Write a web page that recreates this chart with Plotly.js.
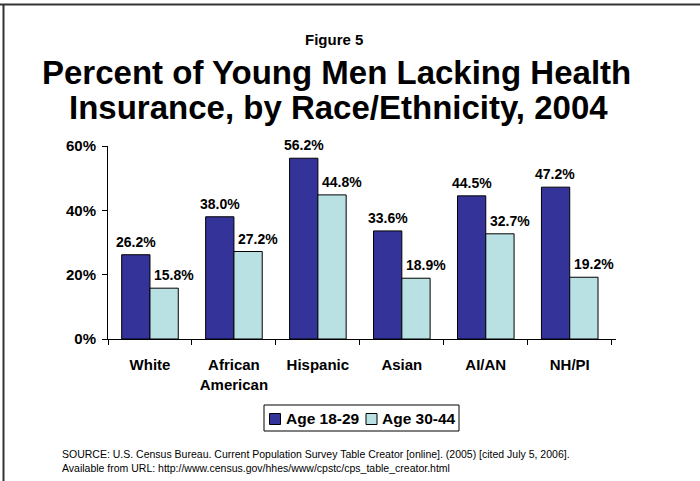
<!DOCTYPE html>
<html>
<head>
<meta charset="utf-8">
<script src="https://cdn.plot.ly/plotly-3.0.1.min.js"></script>
<style>
  html, body { margin: 0; padding: 0; background: #fff; }
  #chart { width: 700px; height: 481px; }
</style>
</head>
<body>
<div id="chart"></div>
<script>
// Uninsured young men by race/ethnicity, 2004 (percent)
const categories = ['White', 'African<br>American', 'Hispanic', 'Asian', 'AI/AN', 'NH/PI'];
const age18to29 = [26.2, 38.0, 56.2, 33.6, 44.5, 47.2];
const age30to44 = [15.8, 27.2, 44.8, 18.9, 32.7, 19.2];
const seriesNames = ['Age 18-29', 'Age 30-44'];
const yTicks = [0, 20, 40, 60];

const COLORS = ['#333399', '#B9E0E2'];
const FONT = 'Arial, "Liberation Sans", sans-serif';
const W = 700, H = 481;
const L = 108, R = 84, T = 146, B = 142;
const plotW = W - L - R, plotH = H - T - B;
// page pixels -> paper coordinates
const px = x => (x - L) / plotW;
const py = y => (H - B - y) / plotH;

const BARGAP = 0.326;
const catW = plotW / categories.length;
const barW = catW * (1 - BARGAP) / 2;

const seriesValues = [age18to29, age30to44];

const data = seriesValues.map((vals, s) => ({
  type: 'bar',
  name: seriesNames[s],
  x: categories,
  y: vals,
  showlegend: false,
  marker: { color: COLORS[s], line: { color: '#000', width: 1 } },
  hoverinfo: 'skip'
}));

// value labels above each bar
const valueLabels = [];
seriesValues.forEach((vals, s) => {
  vals.forEach((v, i) => {
    valueLabels.push({
      xref: 'x', yref: 'y',
      x: categories[i], y: v,
      xshift: s === 0 ? -barW / 2 : barW / 2 + 10,
      yshift: 3,
      xanchor: 'center', yanchor: 'bottom',
      text: v.toFixed(1) + '%',
      showarrow: false,
      font: { family: FONT, size: 14, color: '#000', weight: 'bold' }
    });
  });
});

// legend: bordered box with two swatches
const legendBox = { x0: 264, x1: 459, y0: 405, y1: 431 };
const swatchX = [269.5, 366];
const legendTextX = [284, 380];
const legendMidY = 418.5;

const legendShapes = [
  { type: 'rect', xref: 'paper', yref: 'paper',
    x0: px(legendBox.x0), x1: px(legendBox.x1), y0: py(legendBox.y0), y1: py(legendBox.y1),
    line: { color: '#000', width: 1 }, fillcolor: 'rgba(0,0,0,0)' }
];
const legendTexts = [];
seriesNames.forEach((name, s) => {
  legendShapes.push({
    type: 'rect', xref: 'paper', yref: 'paper',
    x0: px(swatchX[s]), x1: px(swatchX[s] + 11),
    y0: py(legendMidY - 5), y1: py(legendMidY + 6),
    line: { color: '#000', width: 1 }, fillcolor: COLORS[s]
  });
  legendTexts.push({
    xref: 'paper', yref: 'paper',
    x: px(legendTextX[s]), y: py(legendMidY),
    xanchor: 'left', yanchor: 'middle',
    text: name, showarrow: false,
    font: { family: FONT, size: 15.5, color: '#000', weight: 'bold' }
  });
});

const layout = {
  width: W, height: H,
  margin: { l: L, r: R, t: T, b: B, pad: 0 },
  paper_bgcolor: '#fff', plot_bgcolor: '#fff',
  font: { family: FONT, color: '#000' },
  barmode: 'group',
  bargap: BARGAP,
  bargroupgap: 0,
  showlegend: false,
  xaxis: {
    type: 'category',
    showline: true, linecolor: '#000', linewidth: 1,
    ticks: 'outside', ticklen: 5, tickcolor: '#000',
    tickson: 'boundaries',
    tickangle: 0,
    ticklabelstandoff: 12,
    showgrid: false, zeroline: false,
    tickfont: { family: FONT, size: 15, color: '#000', weight: 'bold' },
    fixedrange: true
  },
  yaxis: {
    range: [0, 60],
    tickvals: yTicks,
    ticktext: yTicks.map(v => v + '%'),
    showline: true, linecolor: '#000', linewidth: 1,
    ticks: 'outside', ticklen: 5, tickcolor: '#000',
    ticklabelstandoff: 3,
    showgrid: false, zeroline: false,
    tickfont: { family: FONT, size: 15, color: '#000', weight: 'bold' },
    fixedrange: true
  },
  annotations: [
    {
      text: 'Figure 5', xref: 'paper', yref: 'paper',
      x: px(333.5), y: py(39), xanchor: 'center', yanchor: 'middle',
      showarrow: false,
      font: { family: FONT, size: 15, color: '#000', weight: 'bold' }
    },
    {
      text: 'Percent of Young Men Lacking Health',
      xref: 'paper', yref: 'paper',
      x: px(336), y: py(72), xanchor: 'center', yanchor: 'middle',
      showarrow: false,
      font: { family: FONT, size: 33, color: '#000', weight: 'bold' }
    },
    {
      text: 'Insurance, by Race/Ethnicity, 2004',
      xref: 'paper', yref: 'paper',
      x: px(338), y: py(107), xanchor: 'center', yanchor: 'middle',
      showarrow: false,
      font: { family: FONT, size: 33, color: '#000', weight: 'bold' }
    },
    {
      text: 'SOURCE: U.S. Census Bureau. Current Population Survey Table Creator [online]. (2005) [cited July 5, 2006].<br>Available from URL: http://www.census.gov/hhes/www/cpstc/cps_table_creator.html',
      xref: 'paper', yref: 'paper',
      x: px(59.5), y: py(461), xanchor: 'left', yanchor: 'middle', align: 'left',
      showarrow: false,
      font: { family: FONT, size: 10.5, color: '#000' }
    }
  ].concat(valueLabels, legendTexts),
  shapes: [
    // frame: top and left edges
    { type: 'line', xref: 'paper', yref: 'paper', x0: px(0), x1: px(700), y0: py(4.5), y1: py(4.5),
      line: { color: '#333', width: 2 } },
    { type: 'line', xref: 'paper', yref: 'paper', x0: px(3.5), x1: px(3.5), y0: py(4), y1: py(481),
      line: { color: '#333', width: 2 } }
  ].concat(legendShapes)
};

Plotly.newPlot('chart', data, layout, { displayModeBar: false, staticPlot: true });
</script>
</body>
</html>
